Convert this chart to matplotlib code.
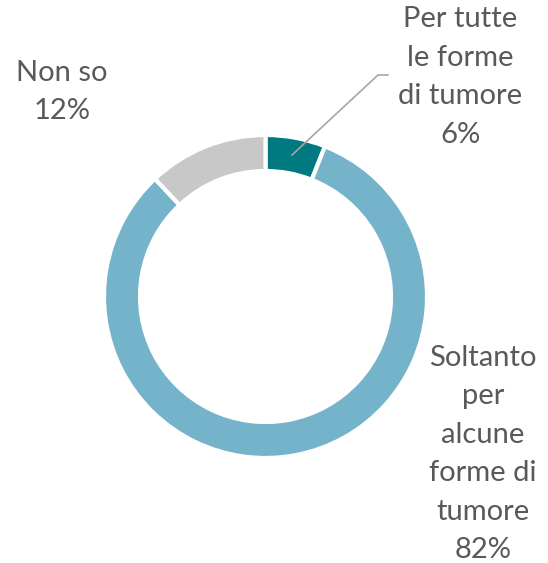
import matplotlib.pyplot as plt

# data
labels = ["Per tutte\nle forme\ndi tumore", "Soltanto\nper\nalcune\nforme di\ntumore", "Non so"]
values = [6, 82, 12]
colors = ["#007A80", "#74B3C9", "#C8C8C8"]

W, H = 548, 563
fig = plt.figure(figsize=(W / 100, H / 100), dpi=100)
ax = fig.add_axes([0, 0, 1, 1])

cx, cy, r = 265.5, H - 296.5, 161.5
ax.pie(values, colors=colors, startangle=90, counterclock=False,
       center=(cx, cy), radius=r, frame=True,
       wedgeprops=dict(width=36, edgecolor="white", linewidth=3))
ax.set_xlim(0, W)
ax.set_ylim(0, H)
ax.set_aspect("equal")
ax.axis("off")

txt = dict(fontsize=21, color="#595959", family="Lato", ha="center",
           va="center", linespacing=1.6)
ax.text(460, H - 77, f"{labels[0]}\n{values[0]}%", **txt)
ax.text(483, H - 454, f"{labels[1]}\n{values[1]}%", **txt)
ax.text(62, H - 92, f"{labels[2]}\n{values[2]}%", **txt)

# leader line for the small slice
ax.plot([292, 378, 388], [H - 155, H - 75, H - 75], color="#A6A6A6", lw=1.2)

fig.savefig("out.png", dpi=100)
